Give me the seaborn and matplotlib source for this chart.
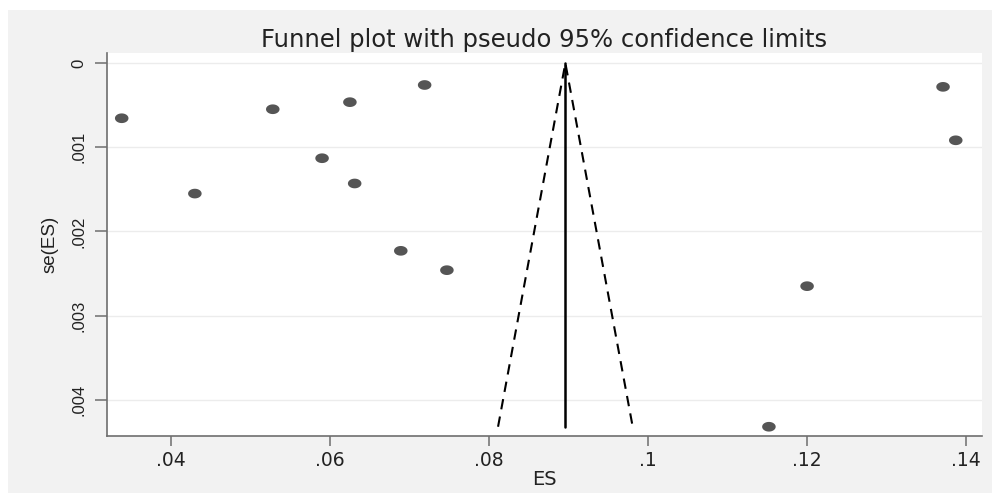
import numpy as np
import pandas as pd
import matplotlib
matplotlib.use("Agg")
import matplotlib.pyplot as plt
from matplotlib.patches import Rectangle
from matplotlib.path import Path
import seaborn as sns

# ---- data ----
es = [0.0338, 0.0430, 0.0528, 0.0590, 0.0625, 0.0631, 0.0719, 0.0689,
      0.0747, 0.1371, 0.1387, 0.1200, 0.1152]
se = [0.000655, 0.00155, 0.000548, 0.00113, 0.000464, 0.00143, 0.00026,
      0.00223, 0.00246, 0.000282, 0.000917, 0.00265, 0.00432]
pooled_es = 0.0896
x_ticks = [0.04, 0.06, 0.08, 0.10, 0.12, 0.14]
x_tick_labels = [".04", ".06", ".08", ".1", ".12", ".14"]
y_ticks = [0.0, 0.001, 0.002, 0.003, 0.004]
y_tick_labels = ["0", ".001", ".002", ".003", ".004"]
title = "Funnel plot with pseudo 95% confidence limits"

df = pd.DataFrame({"ES": es, "se": se})

sns.set_theme(style="white")
plt.rcParams["font.family"] = ["DejaVu Sans"]

fig = plt.figure(figsize=(10, 4.94), dpi=100)
fig.patch.set_facecolor("white")
fig.patches.append(Rectangle((0.008, 0.002), 0.984, 0.978, transform=fig.transFigure,
                             facecolor="#f2f2f2", edgecolor="none", zorder=-10))
ax = fig.add_axes([0.107, 0.1174, 0.875, 0.7753])
ax.set_facecolor("white")

# ellipse marker (wider than tall)
t = np.linspace(0, 2 * np.pi, 60)
ell = Path(np.column_stack([1.4 * np.cos(t), np.sin(t)]), closed=True)

sns.scatterplot(data=df, x="ES", y="se", ax=ax, marker=ell, s=95,
                color="#555555", edgecolor="none", zorder=3)

se_max = max(se)
ax.plot([pooled_es, pooled_es], [0, se_max], color="black", lw=1.8, zorder=2)
ax.plot([pooled_es - 1.96 * se_max, pooled_es, pooled_es + 1.96 * se_max],
        [se_max, 0, se_max], color="black", lw=1.5, ls=(0, (5, 3.5)), zorder=2)

ax.set_xlim(0.03195, 0.1420)
ax.set_ylim(0.00443, -0.00012)
ax.set_xticks(x_ticks)
ax.set_xticklabels(x_tick_labels, fontsize=13.5, family="DejaVu Sans")
ax.set_yticks(y_ticks)
ax.set_yticklabels(y_tick_labels, rotation=90, va="center", fontsize=12,
                   family="Liberation Sans")
ax.grid(axis="y", color="#ececec", lw=1)
ax.set_axisbelow(True)

for s in ["top", "right"]:
    ax.spines[s].set_visible(False)
for s in ["left", "bottom"]:
    ax.spines[s].set_color("#6e6e6e")
    ax.spines[s].set_linewidth(1.2)
ax.tick_params(axis="x", which="major", direction="out", length=7, width=1.1,
               color="#6e6e6e", labelcolor="#222222", pad=4, bottom=True)
ax.tick_params(axis="y", which="major", direction="out", length=9, width=1.1,
               color="#6e6e6e", labelcolor="#222222", pad=6, left=True)

ax.set_xlabel("ES", fontsize=14, color="#222222", labelpad=0, family="DejaVu Sans")
ax.set_ylabel("se(ES)", fontsize=13.5, color="#222222", labelpad=9, family="Liberation Sans")
ax.set_title(title, fontsize=17.5, color="#222222", pad=4, family="DejaVu Sans")

fig.savefig("out.png", dpi=100, facecolor=fig.get_facecolor())
